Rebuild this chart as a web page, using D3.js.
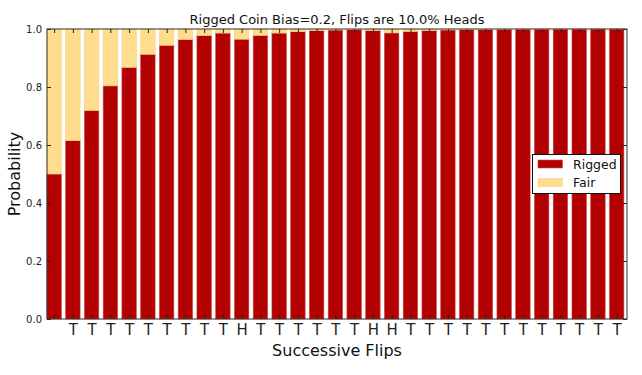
<!DOCTYPE html>
<html><head><meta charset="utf-8">
<script src="https://cdn.jsdelivr.net/npm/d3@7"></script>
<style>body{margin:0;background:#fff}svg{display:block}text{font-family:"DejaVu Sans",sans-serif}</style>
</head><body><svg id="c" width="642" height="375"></svg>
<script>
const flips = ["", "T","T","T","T","T","T","T","T","T","H","T","T","T","T","T","T","H","H","T","T","T","T","T","T","T","T","T","T","T","T"];
const rigged = [0.5,0.615,0.719,0.804,0.868,0.913,0.944,0.964,0.977,0.986,0.965,0.978,0.986,0.991,0.9945,0.9965,0.9978,0.9946,0.9866,0.9916,0.9947,0.9967,0.9979,0.9987,0.9992,0.9995,0.9997,0.9998,0.9999,0.99995,0.99997];
const fair = rigged.map(v => 1 - v);
const yTicks = [0, 0.2, 0.4, 0.6, 0.8, 1.0];
const title = "Rigged Coin Bias=0.2, Flips are 10.0% Heads";

const svg = d3.select("#c");
const L = 47, R = 627, T = 29, B = 319;
const x = d3.scaleLinear().domain([-0.38, 30.55]).range([L, R]);
const y = d3.scaleLinear().domain([0, 1]).range([B, T]);
const bw = 0.77;
const red = "#b30000", yellow = "#ffdd8d";

const g = svg.append("g");
g.selectAll("rect.r").data(rigged).join("rect")
  .attr("x", (d,i) => x(i - bw/2)).attr("width", x(bw) - x(0))
  .attr("y", d => y(d)).attr("height", d => y(0) - y(d))
  .attr("fill", red).attr("stroke", "#cc4a4a").attr("stroke-width", 0.6);
g.selectAll("rect.f").data(fair).join("rect")
  .attr("x", (d,i) => x(i - bw/2)).attr("width", x(bw) - x(0))
  .attr("y", (d,i) => y(rigged[i] + d)).attr("height", (d,i) => y(rigged[i]) - y(rigged[i] + d))
  .attr("fill", yellow).attr("stroke", "#f5cf80").attr("stroke-width", 0.6);

// axes with inward ticks
const idx = d3.range(rigged.length);
svg.append("g").attr("transform", `translate(0,${B})`)
  .call(d3.axisBottom(x).tickValues(idx).tickFormat(i => flips[i]).tickSizeInner(-4).tickSizeOuter(0).tickPadding(5))
  .call(a => { a.select(".domain").remove(); a.selectAll("text").attr("font-size", 15).attr("fill", "#222"); a.selectAll("line").attr("stroke", "#222"); });
svg.append("g").attr("transform", `translate(0,${T})`)
  .call(d3.axisTop(x).tickValues(idx).tickFormat("").tickSizeInner(-4).tickSizeOuter(0))
  .call(a => { a.select(".domain").remove(); a.selectAll("line").attr("stroke", "#222"); });
svg.append("g").attr("transform", `translate(${L},0)`)
  .call(d3.axisLeft(y).tickValues(yTicks).tickFormat(d3.format(".1f")).tickSizeInner(-4).tickSizeOuter(0).tickPadding(5))
  .call(a => { a.select(".domain").remove(); a.selectAll("text").attr("font-size", 10).attr("fill", "#222"); a.selectAll("line").attr("stroke", "#222"); });
svg.append("g").attr("transform", `translate(${R},0)`)
  .call(d3.axisRight(y).tickValues(yTicks).tickFormat("").tickSizeInner(-4).tickSizeOuter(0))
  .call(a => { a.select(".domain").remove(); a.selectAll("line").attr("stroke", "#222"); });

svg.append("rect").attr("x", L).attr("y", T).attr("width", R - L).attr("height", B - T)
  .attr("fill", "none").attr("stroke", "#333").attr("stroke-width", 1);

svg.append("text").attr("x", (L + R) / 2).attr("y", 23.5).attr("text-anchor", "middle")
  .attr("font-size", 13).attr("fill", "#111").text(title);
svg.append("text").attr("x", (L + R) / 2).attr("y", 356).attr("text-anchor", "middle")
  .attr("font-size", 16).attr("fill", "#111").text("Successive Flips");
svg.append("text").attr("transform", `translate(20,${(T + B) / 2}) rotate(-90)`).attr("text-anchor", "middle")
  .attr("font-size", 16).attr("fill", "#111").text("Probability");

// legend
const lg = svg.append("g");
lg.append("rect").attr("x", 532.5).attr("y", 154.5).attr("width", 88).attr("height", 39)
  .attr("fill", "#fff").attr("stroke", "#111").attr("stroke-width", 1);
const items = [{name: "Rigged", c: red, s: "#cc4a4a"}, {name: "Fair", c: yellow, s: "#f5cf80"}];
items.forEach((it, i) => {
  const yy = 160 + i * 18.5;
  lg.append("rect").attr("x", 538).attr("y", yy).attr("width", 24.5).attr("height", 8)
    .attr("fill", it.c).attr("stroke", it.s).attr("stroke-width", 0.6);
  lg.append("text").attr("x", 573).attr("y", yy + 8.5).attr("font-size", 12.5).attr("fill", "#111").text(it.name);
});
</script></body></html>
